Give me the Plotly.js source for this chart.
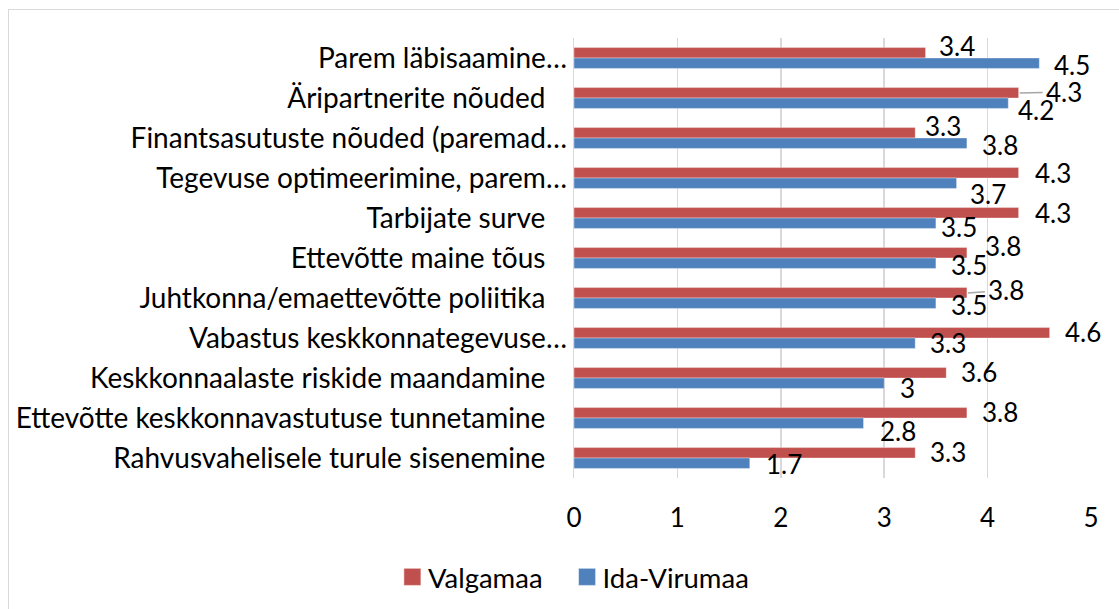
<!DOCTYPE html>
<html>
<head>
<meta charset="utf-8">
<script src="https://cdn.plot.ly/plotly-3.0.1.min.js"></script>
<style>
  html, body { margin:0; padding:0; background:#fff; overflow:hidden; }
  #wrap { position:relative; width:1119px; height:609px; }
  #chart { position:absolute; left:0; top:0; width:1119px; height:609px; }
  #frame { position:absolute; left:8px; top:9px; width:1200px; height:700px;
           border:1px solid #d9d9d9; pointer-events:none; }
</style>
</head>
<body>
<div id="wrap">
  <div id="chart"></div>
  <div id="frame"></div>
</div>
<script>
// ---- data ----
const categories = [
  "Parem läbisaamine…",
  "Äripartnerite nõuded ",
  "Finantsasutuste nõuded (paremad…",
  "Tegevuse optimeerimine, parem…",
  "Tarbijate surve ",
  "Ettevõtte maine tõus ",
  "Juhtkonna/emaettevõtte poliitika ",
  "Vabastus keskkonnategevuse…",
  "Keskkonnaalaste riskide maandamine ",
  "Ettevõtte keskkonnavastutuse tunnetamine ",
  "Rahvusvahelisele turule sisenemine "
];
const valgamaa = [3.4, 4.3, 3.3, 4.3, 4.3, 3.8, 3.8, 4.6, 3.6, 3.8, 3.3];
const idaVirumaa = [4.5, 4.2, 3.8, 3.7, 3.5, 3.5, 3.5, 3.3, 3.0, 2.8, 1.7];
const seriesNames = ["Valgamaa", "Ida-Virumaa"];
const xTicks = [0, 1, 2, 3, 4, 5];

// ---- label placement (pixel gap right of bar end, vertical offset from category centre; + = down) ----
const redLabelGap  = [14, 28, 11, 17, 17, 19, 22, 16, 16, 16, 16];
const redLabelDy   = [-12, -6.5, -12.5, -5, -5, -12.5, -8, -6.5, -6, -6.5, -6];
const blueLabelGap = [16, 11, 16, 14, 6, 16, 16, 16, 17, 17, 17];
const blueLabelDy  = [7, 11.5, 7, 16, 8.5, 7, 7, 5, 10, 13, 6];
const leaderRows   = [1, 6];   // Valgamaa labels drawn with a leader line

const FONT = "Lato, 'Open Sans', sans-serif";
const RED = "#C0504D", BLUE = "#4F81BD";

const traces = [
  { type:"bar", orientation:"h", name:seriesNames[0], y:categories, x:valgamaa,
    marker:{color:RED, line:{color:"rgba(255,255,255,0.6)", width:0.6}}, hoverinfo:"x" },
  { type:"bar", orientation:"h", name:seriesNames[1], y:categories, x:idaVirumaa,
    marker:{color:BLUE, line:{color:"rgba(255,255,255,0.6)", width:0.6}}, hoverinfo:"x" }
];

const annotations = [];
categories.forEach((c, i) => {
  annotations.push({ x: valgamaa[i], y: c, xref:"x", yref:"y", text: String(valgamaa[i]),
    showarrow:false, xanchor:"left", yanchor:"middle",
    xshift: redLabelGap[i] - 3, yshift: -redLabelDy[i],
    font:{family:FONT, size:26, color:"#000"} });
  annotations.push({ x: idaVirumaa[i], y: c, xref:"x", yref:"y", text: String(idaVirumaa[i]),
    showarrow:false, xanchor:"left", yanchor:"middle",
    xshift: blueLabelGap[i] - 3, yshift: -blueLabelDy[i],
    font:{family:FONT, size:26, color:"#000"} });
});

const shapes = leaderRows.map(i => ({
  type:"line", xref:"x", yref:"y",
  xsizemode:"pixel", xanchor: valgamaa[i], x0: 1, x1: redLabelGap[i] - 4,
  ysizemode:"pixel", yanchor: i, y0: 5, y1: 5 - (redLabelDy[i] + 5) * 0.4,
  line:{color:"#a6a6a6", width:1.5}
}));

const tickText = categories.map(c => c.endsWith(" ") ? c.trimEnd() + "\u00a0\u00a0\u00a0" : c);

const layout = {
  width:1119, height:609,
  margin:{l:574, r:28, t:38, b:131, autoexpand:false},
  paper_bgcolor:"#fff", plot_bgcolor:"#fff",
  font:{family:FONT, size:26, color:"#000"},
  barmode:"group", bargap:0.48, bargroupgap:0,
  xaxis:{ range:[0,5], tickvals:xTicks, ticktext:xTicks.map(String),
    showgrid:true, gridcolor:"#d9d9d9", gridwidth:1.5, zeroline:false,
    showline:false, ticks:"", tickfont:{family:FONT, size:26, color:"#000"},
    ticklabelstandoff:22, automargin:false, fixedrange:true },
  yaxis:{ type:"category", range:[categories.length - 0.5, -0.5], showgrid:false, zeroline:false,
    tickvals:categories, ticktext:tickText,
    showline:true, linecolor:"#d9d9d9", linewidth:1.5, ticks:"",
    tickfont:{family:FONT, size:28, color:"#000"}, ticklabelstandoff:0,
    automargin:false, fixedrange:true },
  legend:{ orientation:"h", x:-0.389, xanchor:"left", y:-0.225, yanchor:"middle",
    itemwidth:45,
    font:{family:FONT, size:27.5, color:"#000"}, traceorder:"normal" },
  annotations: annotations,
  shapes: shapes,
  showlegend:true
};

Plotly.newPlot("chart", traces, layout, {displayModeBar:false, staticPlot:true}).then(gd => {
  gd.querySelectorAll(".legend .legendpoints path").forEach(p => {
    p.setAttribute("transform", "translate(39.5,0) scale(1.42)");
  });
});
</script>
</body>
</html>
